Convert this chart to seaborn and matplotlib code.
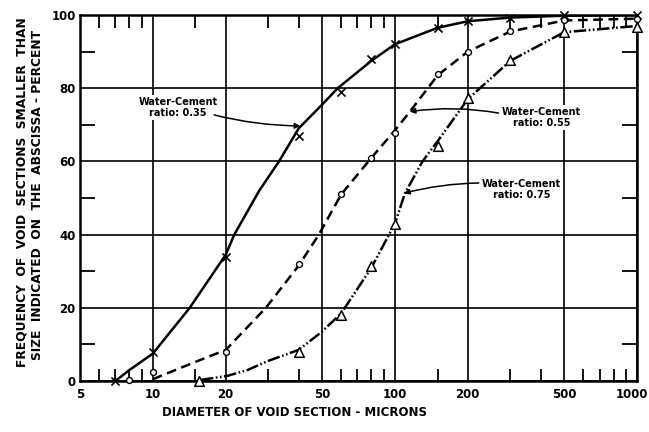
import matplotlib
matplotlib.use("Agg")
import matplotlib.pyplot as plt
import matplotlib.ticker as mticker
import matplotlib.transforms as mtransforms
import seaborn as sns
import numpy as np

# ---- data ----
# measured points (markers)
d_035 = [7, 10, 20, 40, 60, 80, 100, 150, 200, 300, 500, 1000]
f_035 = [0, 8, 34, 67, 79, 88, 92, 96.5, 98.3, 99.3, 100, 100]

d_055 = [8, 10, 20, 40, 60, 80, 100, 150, 200, 300, 500, 1000]
f_055 = [0.3, 2.5, 8, 32, 51, 61, 67.7, 84, 90, 95.5, 98.5, 99]

d_075 = [15.5, 40, 60, 80, 100, 150, 200, 300, 500, 1000]
f_075 = [0, 8, 18, 31.4, 43, 64.3, 77.4, 87.7, 95.3, 96.8]

# faired curves as drawn in the reference
c035_x = [7.0, 8, 10, 14.2, 20, 21.7, 27.5, 33.2, 40, 50, 58, 80, 100, 150, 200, 300, 500, 1000]
c035_y = [0, 3, 7.5, 20, 34.5, 40, 52, 60, 69, 75.5, 80, 87.5, 92, 96.5, 98.3, 99.3, 99.8, 100]

c055_x = [10, 14.7, 20, 29.3, 40, 48.5, 60, 80, 100, 115, 150, 200, 300, 500, 1000]
c055_y = [0.5, 5, 8.5, 20, 31.5, 40, 51, 61, 68.5, 73.5, 83.5, 90, 95.5, 98.5, 99]

c075_x = [15.8, 20.3, 24.6, 30, 40, 50, 60, 80, 100, 110, 130, 150, 200, 300, 500, 1000]
c075_y = [0.3, 1.4, 3, 5.5, 8.5, 13.5, 18.5, 31, 43, 51.3, 60, 65.5, 77, 87.5, 95.3, 97]

x_ticks = [5, 10, 20, 50, 100, 200, 500, 1000]
x_minor = [6, 7, 8, 9, 15, 30, 40, 60, 70, 80, 90, 150, 300, 400, 600, 700, 800, 900]
y_ticks = [0, 20, 40, 60, 80, 100]
y_minor = [10, 30, 50, 70, 90]

labels = ["Water-Cement\nratio: 0.35", "Water-Cement\nratio: 0.55", "Water-Cement\nratio: 0.75"]

# ---- figure ----
sns.set_style("white")
plt.rcParams['font.family'] = ['DejaVu Sans']
plt.rcParams['lines.scale_dashes'] = False
plt.rcParams['text.color'] = 'black'
plt.rcParams['xtick.color'] = 'black'
plt.rcParams['ytick.color'] = 'black'
plt.rcParams['axes.labelcolor'] = 'black'

fig = plt.figure(figsize=(6.49, 4.32), dpi=100)
ax = fig.add_axes([80/649, 1-381/432, (637-80)/649, (381-15)/432])

ax.set_xscale('log')
ax.set_xlim(5, 1000)
ax.set_ylim(0, 100)

# curves
sns.lineplot(x=c035_x, y=c035_y, ax=ax, color='black', lw=1.8, sort=False, estimator=None)
sns.lineplot(x=c055_x, y=c055_y, ax=ax, color='black', lw=1.8, sort=False, estimator=None)
ax.lines[-1].set_dashes([7, 4])
sns.lineplot(x=c075_x, y=c075_y, ax=ax, color='black', lw=1.8, sort=False, estimator=None)
ax.lines[-1].set_dashes([9, 1.8, 1.2, 1.8, 1.2, 1.8])

# markers
sns.scatterplot(x=d_035, y=f_035, ax=ax, marker='x', s=34, color='black',
                linewidth=1.2, clip_on=False, zorder=5)
sns.scatterplot(x=d_055, y=f_055, ax=ax, marker='o', s=18, facecolor='white',
                edgecolor='black', linewidth=1.0, clip_on=False, zorder=5)
sns.scatterplot(x=d_075, y=f_075, ax=ax, marker='^', s=48, facecolor='white',
                edgecolor='black', linewidth=1.1, clip_on=False, zorder=5)

# ticks and grid
ax.xaxis.set_major_locator(mticker.FixedLocator(x_ticks))
ax.xaxis.set_major_formatter(mticker.FixedFormatter([str(t) for t in x_ticks]))
ax.xaxis.set_minor_locator(mticker.FixedLocator(x_minor))
ax.xaxis.set_minor_formatter(mticker.NullFormatter())
ax.yaxis.set_major_locator(mticker.FixedLocator(y_ticks))
ax.yaxis.set_minor_locator(mticker.FixedLocator(y_minor))

ax.tick_params(which='major', length=0, labelsize=8.5, labelcolor='black')
ax.tick_params(axis='x', which='major', pad=5)
ax.tick_params(axis='y', which='major', pad=3)
ax.tick_params(axis='x', which='minor', direction='in', length=9, width=1.3,
               top=True, bottom=True, color='black')
ax.tick_params(axis='y', which='minor', direction='in', length=11, width=1.3,
               left=True, right=True, color='black')
for lab in ax.get_xticklabels() + ax.get_yticklabels():
    lab.set_fontweight('bold')
last = ax.get_xticklabels()[-1]
last.set_transform(last.get_transform() +
                   mtransforms.ScaledTranslation(-5/100, 0, fig.dpi_scale_trans))

ax.grid(which='major', color='black', lw=1.2)
ax.set_axisbelow(True)
for s in ax.spines.values():
    s.set_visible(True)
    s.set_color('black')
    s.set_linewidth(1.8)

# axis labels
fig.text(294/649, 1-413/432, "DIAMETER OF VOID SECTION - MICRONS",
         ha='center', va='center', fontsize=8.5, fontweight='bold', color='black')
fig.text(22/649, 1-192/432, "FREQUENCY  OF  VOID  SECTIONS  SMALLER  THAN",
         ha='center', va='center', rotation=90, fontsize=8.8, fontweight='bold', color='black')
fig.text(38/649, 1-195/432, "SIZE  INDICATED  ON  THE  ABSCISSA - PERCENT",
         ha='center', va='center', rotation=90, fontsize=8.8, fontweight='bold', color='black')

# annotations
bb = dict(facecolor='white', edgecolor='none', pad=1.5)
ax.text(12.7, 74.8, labels[0], ha='center', va='center', fontsize=7,
        fontweight='bold', bbox=bb, linespacing=1.1, zorder=6, color='black')
ax.annotate('', xy=(40.7, 69.7), xytext=(17.9, 72.7),
            arrowprops=dict(arrowstyle='-|>', color='black', lw=1.1,
                            mutation_scale=8, shrinkA=0, shrinkB=0,
                            connectionstyle='arc3,rad=0.06'), zorder=6)

ax.text(403, 71.9, labels[1], ha='center', va='center', fontsize=7,
        fontweight='bold', bbox=bb, linespacing=1.1, zorder=6, color='black')
ax.annotate('', xy=(115, 73.6), xytext=(268, 73.2),
            arrowprops=dict(arrowstyle='-|>', color='black', lw=1.1,
                            mutation_scale=8, shrinkA=0, shrinkB=0,
                            connectionstyle='arc3,rad=0.08'), zorder=6)

ax.text(333, 52.4, labels[2], ha='center', va='center', fontsize=7,
        fontweight='bold', bbox=bb, linespacing=1.1, zorder=6, color='black')
ax.annotate('', xy=(109, 51.3), xytext=(222, 54.1),
            arrowprops=dict(arrowstyle='-|>', color='black', lw=1.1,
                            mutation_scale=8, shrinkA=0, shrinkB=0,
                            connectionstyle='arc3,rad=0.06'), zorder=6)

fig.savefig("out.png", dpi=100)
